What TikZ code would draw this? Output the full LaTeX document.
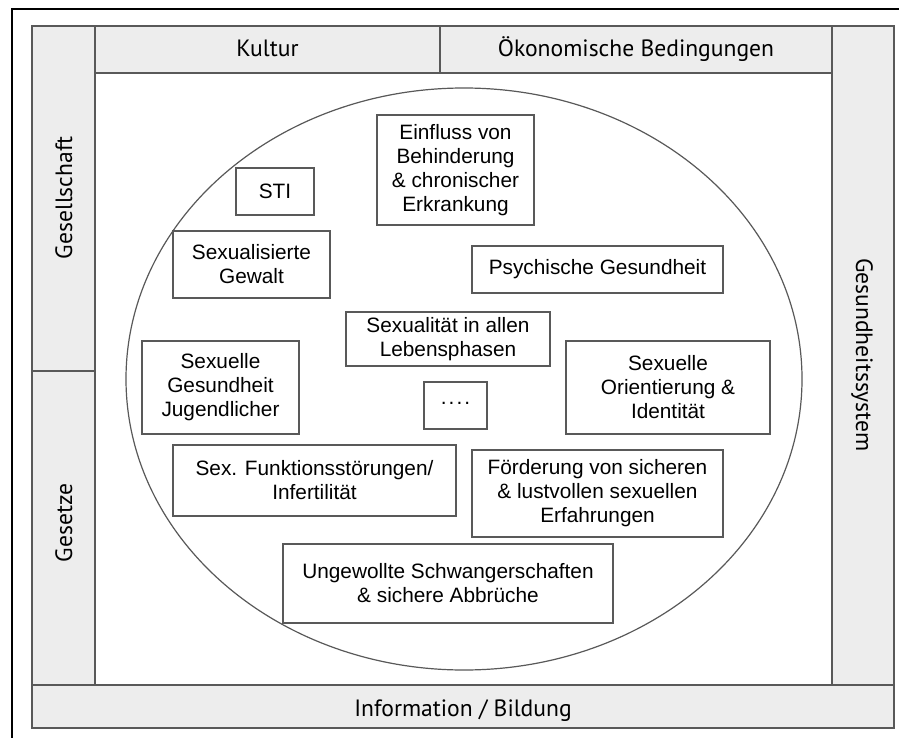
\documentclass[tikz,border=0pt]{standalone}
\usepackage{fontspec}
\setmainfont{Liberation Sans}
\newfontfamily\bandfont{PT Sans}

\definecolor{bandgray}{gray}{0.93}
\definecolor{linegray}{gray}{0.35}

\tikzset{
  band/.style={fill=bandgray, draw=linegray, line width=0.6pt},
  bandlabel/.style={font=\bandfont\fontsize{11.8}{14}\selectfont, inner sep=0pt, anchor=base},
  topic/.style={draw=linegray, line width=0.6pt, fill=white, align=center,
    font=\fontsize{10.4}{12}\selectfont, inner sep=0pt},
}

\begin{document}
\begin{tikzpicture}[x=0.5pt,y=-0.5pt]
\clip (0,0) rectangle (899,738);
\fill[white] (0,0) rectangle (899,738);

% Outer border (runs off the page at right and bottom)
\draw[line width=0.8pt] (12,9) rectangle (930,770);

% Frame bands
\draw[band] (32,685) rectangle (894,728);
\draw[band] (32,26) rectangle (95,371);
\draw[band] (32,371) rectangle (95,685);
\draw[band] (832,26) rectangle (894,685);
\draw[band] (95,26) rectangle (440,73);
\draw[band] (440,26) rectangle (832,73);

% Band labels
\node[bandlabel] (kultur) at (267.5,57) {Kultur};
\node[bandlabel] (oekonomie) at (636,57) {Ökonomische Bedingungen};
\node[bandlabel, rotate=90] (gesellschaft) at (72,198) {Gesellschaft};
\node[bandlabel, rotate=90] (gesetze) at (72,523) {Gesetze};
\node[bandlabel, rotate=-90] (gesundheit) at (856,355) {Gesundheitssystem};
\node[bandlabel] (bildung) at (463,716) {Information / Bildung};

% Circle of topics
\draw[linegray, line width=0.6pt] (464,379) ellipse [x radius=169pt, y radius=145.5pt];

% Topic boxes
\node[topic, minimum width=39pt, minimum height=23.5pt] (sti) at (275,191.5) {STI};
\node[topic, minimum width=78.5pt, minimum height=55pt] (einfluss) at (455.5,170)
  {Einfluss von\\Behinderung\\\& chronischer\\Erkrankung};
\node[topic, minimum width=78.5pt, minimum height=33.5pt] (gewalt) at (251.5,264.5)
  {Sexualisierte\\Gewalt};
\node[topic, minimum width=125.5pt, minimum height=23.5pt] (psyche) at (597.5,269.5)
  {Psychische Gesundheit};
\node[topic, minimum width=102pt, minimum height=27pt] (lebensphasen) at (448,339)
  {Sexualität in allen\\Lebensphasen};
\node[topic, minimum width=78.5pt, minimum height=46.5pt] (jugend) at (220.5,387.5)
  {Sexuelle\\Gesundheit\\Jugendlicher};
\node[topic, minimum width=31.5pt, minimum height=23.5pt] (weitere) at (455.5,405.5)
  {\raisebox{2.5pt}{.\kern1pt.\kern1pt.\kern1pt.}};
\node[topic, minimum width=102pt, minimum height=46.5pt] (orientierung) at (668,387.5)
  {Sexuelle\\Orientierung \&\\Identität};
\node[topic, minimum width=141.5pt, minimum height=35.5pt] (funktion) at (314.5,480.5)
  {Sex. Funktionsstörungen/\\Infertilität};
\node[topic, minimum width=125.5pt, minimum height=43.5pt] (foerderung) at (597.5,493.5)
  {Förderung von sicheren\\\& lustvollen sexuellen\\Erfahrungen};
\node[topic, minimum width=165pt, minimum height=39.5pt] (schwanger) at (448,583.5)
  {Ungewollte Schwangerschaften\\\& sichere Abbrüche};
\end{tikzpicture}
\end{document}
